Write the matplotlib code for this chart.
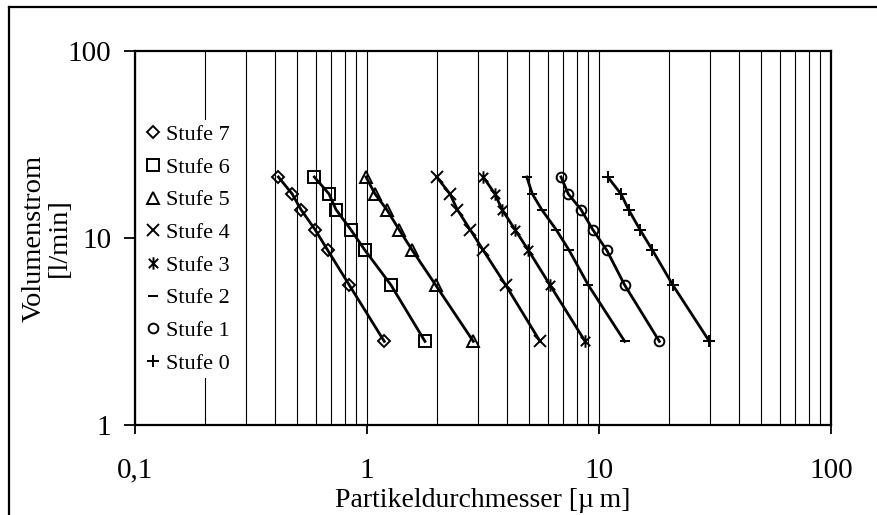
import numpy as np
import matplotlib.pyplot as plt
from matplotlib.path import Path
from matplotlib.lines import Line2D

plt.rcParams['font.family'] = ['Liberation Serif', 'DejaVu Serif']

# Volumenstrom [l/min] (same for every stage)
volume = [21.2, 17.2, 14.2, 11.1, 8.6, 5.6, 2.8]

# Partikeldurchmesser [um] per Stufe
stages = ["Stufe 7", "Stufe 6", "Stufe 5", "Stufe 4", "Stufe 3", "Stufe 2", "Stufe 1", "Stufe 0"]
d_stufe7 = [0.415, 0.476, 0.519, 0.597, 0.677, 0.839, 1.187]
d_stufe6 = [0.593, 0.686, 0.735, 0.851, 0.98, 1.269, 1.778]
d_stufe5 = [0.99, 1.083, 1.216, 1.374, 1.567, 1.977, 2.872]
d_stufe4 = [1.997, 2.279, 2.449, 2.78, 3.17, 3.96, 5.57]
d_stufe3 = [3.17, 3.56, 3.82, 4.34, 4.96, 6.15, 8.71]
d_stufe2 = [4.88, 5.16, 5.66, 6.53, 7.43, 8.99, 12.9]
d_stufe1 = [6.86, 7.37, 8.36, 9.39, 10.8, 12.9, 18.2]
d_stufe0 = [10.9, 12.44, 13.4, 15.0, 17.0, 20.8, 29.9]
diameters = [d_stufe7, d_stufe6, d_stufe5, d_stufe4, d_stufe3, d_stufe2, d_stufe1, d_stufe0]

x_ticks = [0.1, 1, 10, 100]
x_ticklabels = ["0,1", "1", "10", "100"]
y_ticks = [1, 10, 100]
y_ticklabels = ["1", "10", "100"]

# asterisk = x plus vertical bar
star = Path([(0, -1), (0, 1), (-0.75, -0.75), (0.75, 0.75), (-0.75, 0.75), (0.75, -0.75)],
            [Path.MOVETO, Path.LINETO, Path.MOVETO, Path.LINETO, Path.MOVETO, Path.LINETO])
markers = ['D', 's', '^', 'x', star, '_', 'o', '+']
msizes = [6, 8, 8, 8, 9, 7, 7, 8]

fig = plt.figure(figsize=(8.77, 5.15), dpi=100)
ax = fig.add_axes([0.1539, 0.1748, 0.7937, 0.7262])

for d, lab, m, ms in zip(diameters, stages, markers, msizes):
    ax.plot(d, volume, color='black', linewidth=2.0, zorder=3)
    ax.plot(d, volume, linestyle='none', marker=m, markersize=ms, markerfacecolor='none',
            markeredgecolor='black', markeredgewidth=1.4, label=lab, zorder=4)

ax.set_xscale('log')
ax.set_yscale('log')
ax.set_xlim(0.1, 100)
ax.set_ylim(1, 100)

ax.set_xticks(x_ticks)
ax.set_xticklabels(x_ticklabels)
ax.set_yticks(y_ticks)
ax.set_yticklabels(y_ticklabels)
ax.minorticks_off()
ax.tick_params(axis='x', direction='out', length=6.5, width=1.3, pad=17, labelsize=21)
ax.tick_params(axis='y', direction='out', length=8, width=1.3, pad=9, labelsize=21)

# vertical grid at every 1..9 multiple
grid_x = [m * 10.0 ** e for e in range(-1, 2) for m in range(1, 10)]
for gx in grid_x:
    ax.axvline(gx, color='black', linewidth=0.8, zorder=1)

for s in ax.spines.values():
    s.set_linewidth(1.6)

ax.set_xlabel("Partikeldurchmesser [µ\u2009m]", fontsize=20, labelpad=3)
ax.set_ylabel("Volumenstrom\n[l/min]", fontsize=20.5, labelpad=-3, linespacing=1.0)

leg = ax.legend(loc='upper left', bbox_to_anchor=(0.0, 0.833), fontsize=16, frameon=True,
                facecolor='white', edgecolor='none', framealpha=1, handlelength=0.6,
                handletextpad=0.3, labelspacing=0.545, borderpad=0.2, borderaxespad=0.3)
leg.set_zorder(5)

# outer chart frame
fig.add_artist(Line2D([9 / 877, 9 / 877], [0, 1 - 7 / 515], color='black', linewidth=1.6))
fig.add_artist(Line2D([9 / 877, 1], [1 - 7 / 515, 1 - 7 / 515], color='black', linewidth=1.6))

plt.savefig("out.png", dpi=100)
